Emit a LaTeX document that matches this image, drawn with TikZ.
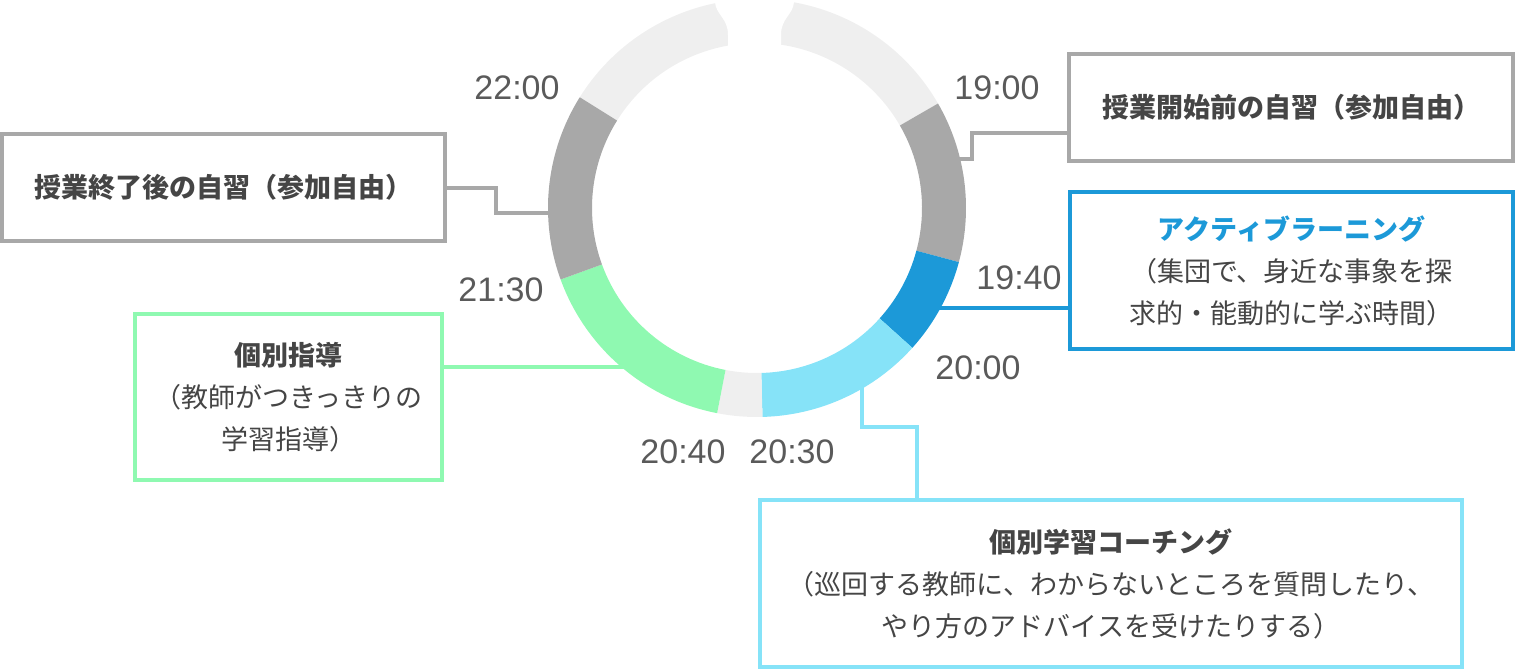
\documentclass[tikz,border=0pt]{standalone}
\usepackage{fontspec}
\newfontfamily\jpfnt{Noto Sans CJK JP}
\newfontfamily\numfnt{Liberation Sans}
\definecolor{rlight}{HTML}{EFEFEF}
\definecolor{rdark}{HTML}{A8A8A8}
\definecolor{rblue}{HTML}{1C99D8}
\definecolor{rcyan}{HTML}{86E3F8}
\definecolor{rgreen}{HTML}{8FF9B1}
\definecolor{txt}{HTML}{454545}
\definecolor{tlab}{HTML}{5A5A5A}
\newcommand\ringseg[3]{\fill[#1] (#2:209pt) arc[start angle=#2, end angle=#3, radius=209pt] -- (#3:165pt) arc[start angle=#3, end angle=#2, radius=165pt] -- cycle;}
\begin{document}
\begin{tikzpicture}[x=1pt,y=1pt,
  boxbase/.style={line width=4pt, fill=white, inner sep=0pt, align=center,
    font=\jpfnt\fontsize{27}{42}\selectfont, text=txt},
  conn/.style={line width=4pt},
  tlabel/.style={font=\numfnt\fontsize{34}{34}\selectfont, text=tlab, inner sep=0pt}]
\useasboundingbox (0,0) rectangle (1516,-670);
% ring end points of connectors
\coordinate (c1) at (560,-213);
\coordinate (c2) at (950,-159);
\coordinate (c3) at (930,-308);
\coordinate (c4) at (640,-367);
\coordinate (c5) at (862,-380);
% boxes
\node[boxbase, draw=rdark, minimum width=443pt, minimum height=107pt] (b1) at (223.5,-187.5)
  {\bfseries 授業終了後の自習（参加自由）};
\node[boxbase, draw=rdark, minimum width=444pt, minimum height=107pt] (b2) at (1291,-107.5)
  {\bfseries 授業開始前の自習（参加自由）};
\node[boxbase, draw=rblue, minimum width=443pt, minimum height=157pt] (b3) at (1291.5,-270.5)
  {{\bfseries\color{rblue}アクティブラーニング}\\（集団で、身近な事象を探\\求的・能動的に学ぶ時間）};
\node[boxbase, draw=rgreen, minimum width=307pt, minimum height=166pt] (b4) at (288.5,-397)
  {{\bfseries 個別指導}\\（教師がつきっきりの\\学習指導）};
\node[boxbase, draw=rcyan, minimum width=702pt, minimum height=167pt] (b5) at (1111,-583.5)
  {{\bfseries 個別学習コーチング}\\（巡回する教師に、わからないところを質問したり、\\やり方のアドバイスを受けたりする）};
% connectors (behind ring)
\draw[conn, rdark] (b1.east) -- ++(49,0) |- (c1);
\draw[conn, rdark] ([yshift=-25.5pt]b2.west) -- ++(-95,0) |- (c2);
\draw[conn, rblue] (c3) -- (b3.west |- c3);
\draw[conn, rgreen] (b4.east |- c4) -- (c4);
\draw[conn, rcyan] (c5) |- (917,-427) -- (917,-427 |- b5.north);
% ring
\begin{scope}[shift={(757,-208)}]
\ringseg{rlight}{30}{148}
\ringseg{rdark}{-15}{30}
\ringseg{rblue}{-42}{-15}
\ringseg{rcyan}{-88.5}{-42}
\ringseg{rlight}{-101}{-88.5}
\ringseg{rgreen}{-160}{-101}
\ringseg{rdark}{148}{200}
\end{scope}
% top notch
\fill[white] (715,10) -- (715,-2) .. controls (716,-15) and (728,-18) .. (728,-35) -- (728,-50)
  -- (781,-50) -- (781,-35) .. controls (781,-18) and (793,-15) .. (794,-2) -- (794,10) -- cycle;
% time labels
\node[tlabel] (t2200) at (517,-88) {22:00};
\node[tlabel] (t1900) at (997,-88) {19:00};
\node[tlabel] (t1940) at (1019,-278) {19:40};
\node[tlabel] (t2130) at (501,-290) {21:30};
\node[tlabel] (t2000) at (978,-368) {20:00};
\node[tlabel] (t2040) at (683,-452) {20:40};
\node[tlabel] (t2030) at (792,-452) {20:30};
\end{tikzpicture}
\end{document}
